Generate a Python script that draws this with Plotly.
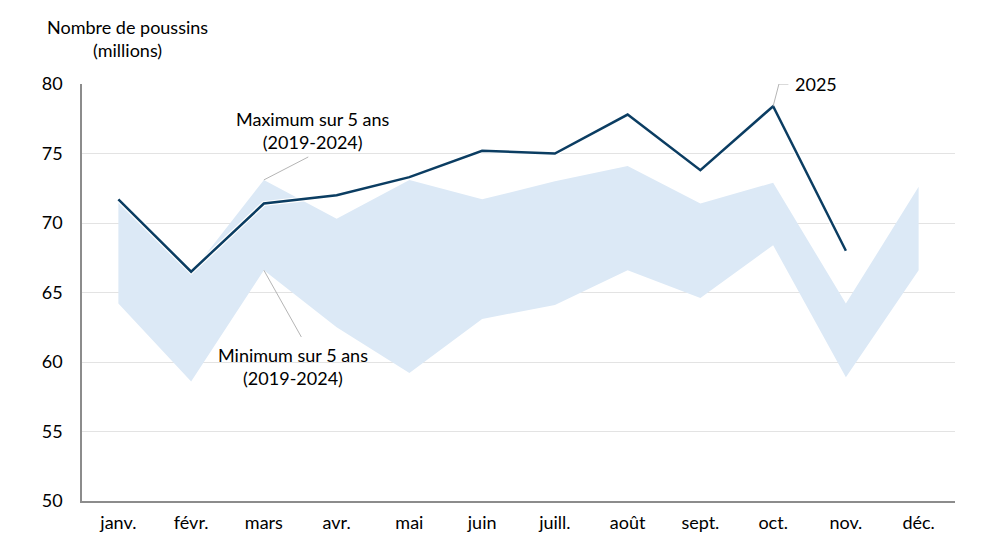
import plotly.graph_objects as go

# Data (millions of chicks)
months = ["janv.", "févr.", "mars", "avr.", "mai", "juin", "juill.", "août", "sept.", "oct.", "nov.", "déc."]
max_5y = [71.7, 66.4, 73.1, 70.3, 73.1, 71.7, 73.0, 74.1, 71.4, 72.9, 64.2, 72.6]
min_5y = [64.2, 58.6, 66.6, 62.5, 59.2, 63.1, 64.1, 66.6, 64.6, 68.4, 58.9, 66.6]
y2025 = [71.7, 66.5, 71.4, 72.0, 73.3, 75.2, 75.0, 77.8, 73.8, 78.4, 68.0]

font = "Lato, Calibri, Carlito, sans-serif"
band_color = "#dce9f6"
line_color = "#0b3d62"
leader_color = "#b5b5b5"
fsize = 18

fig = go.Figure()

# Band between the 5-year min and max
fig.add_trace(go.Scatter(x=months, y=min_5y, mode="lines", line=dict(width=0),
                         hoverinfo="skip", showlegend=False))
fig.add_trace(go.Scatter(x=months, y=max_5y, mode="lines", line=dict(width=0),
                         fill="tonexty", fillcolor=band_color, showlegend=False))

# 2025 line, with a thin white halo underneath
fig.add_trace(go.Scatter(x=months[:len(y2025)], y=y2025, mode="lines",
                         line=dict(color="white", width=5), hoverinfo="skip", showlegend=False))
fig.add_trace(go.Scatter(x=months[:len(y2025)], y=y2025, mode="lines",
                         line=dict(color=line_color, width=2.5), showlegend=False))

# Leader lines for the labels
fig.add_shape(type="line", x0=2, y0=max_5y[2], x1=2.61, y1=74.75,
              line=dict(color=leader_color, width=1))
fig.add_shape(type="line", x0=2, y0=min_5y[2], x1=2.515, y1=61.8,
              line=dict(color=leader_color, width=1))
fig.add_shape(type="line", x0=9, y0=y2025[9], x1=9.08, y1=80.0,
              line=dict(color=leader_color, width=1))
fig.add_shape(type="line", x0=9.08, y0=80.0, x1=9.21, y1=80.0,
              line=dict(color=leader_color, width=1))

fig.add_annotation(x=2.68, y=76.65, text="Maximum sur 5 ans<br>(2019-2024)", showarrow=False,
                   font=dict(size=fsize, color="black", family=font), align="center")
fig.add_annotation(x=2.40, y=59.68, text="Minimum sur 5 ans<br>(2019-2024)", showarrow=False,
                   font=dict(size=fsize, color="black", family=font), align="center")
fig.add_annotation(x=9.27, y=80.0, text="2025", showarrow=False, xanchor="left",
                   font=dict(size=fsize, color="black", family=font))

# Axis title in the top-left corner
fig.add_annotation(xref="paper", yref="paper", x=0.052, y=1.109, xanchor="center",
                   yanchor="middle", text="Nombre de poussins<br>(millions)", showarrow=False,
                   align="center", font=dict(size=fsize, color="black", family=font))

fig.update_xaxes(type="category", range=[-0.5, 11.5], showline=True, linecolor="#8c8c8c",
                 linewidth=1.5, ticks="", showgrid=False, ticklabelstandoff=5,
                 tickfont=dict(size=fsize, color="black", family=font))
fig.update_yaxes(range=[50, 80], dtick=5, showline=True, linecolor="#8c8c8c", linewidth=1.5,
                 gridcolor="#e3e3e3", gridwidth=1, ticks="", zeroline=False,
                 ticklabelstandoff=14,
                 tickfont=dict(size=fsize, color="black", family=font))

# the page adds an 8px body margin, so the margins are shifted to compensate
fig.update_layout(width=992, height=558, plot_bgcolor="white", paper_bgcolor="white",
                  margin=dict(l=74, r=45, t=76, b=65), font=dict(family=font))

fig.write_html("out.html")
